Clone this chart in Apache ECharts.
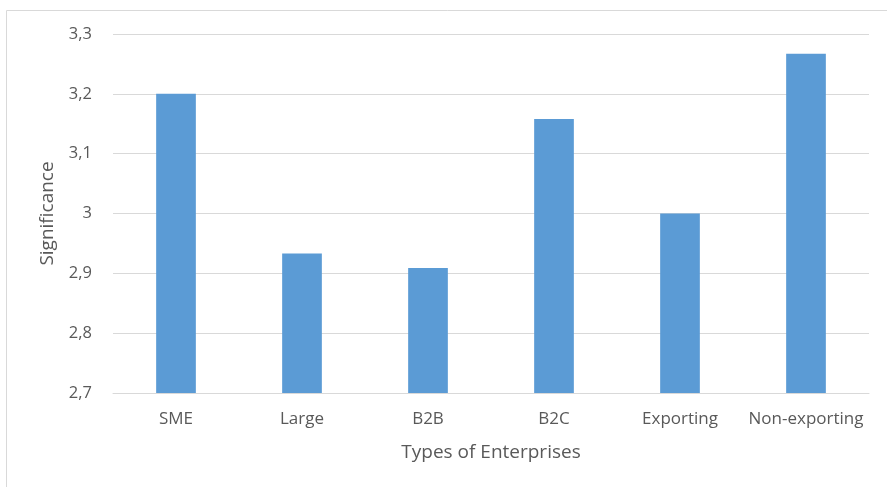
<!DOCTYPE html>
<html><head><meta charset="utf-8">
<script src="https://cdn.jsdelivr.net/npm/echarts@6/dist/echarts.min.js"></script>
<style>html,body{margin:0;padding:0;background:#fff}#c{width:887px;height:487px}</style>
</head><body><div id="c"></div>
<script>
const categories = ["SME", "Large", "B2B", "B2C", "Exporting", "Non-exporting"];
const significance = [3.2, 2.933, 2.909, 3.158, 3.0, 3.267];
const yTicks = {min: 2.7, max: 3.3, interval: 0.1};

const chart = echarts.init(document.getElementById('c'), null, {renderer: 'canvas'});
const font = '"Open Sans", Lato, sans-serif';
chart.setOption({
  animation: false,
  graphic: [{type: 'rect', shape: {x: 6.5, y: 10.5, width: 900, height: 500}, style: {fill: 'none', stroke: '#d9d9d9', lineWidth: 1}}],
  grid: {left: 113, right: 18, top: 34, bottom: 94},
  xAxis: {
    type: 'category', data: categories,
    name: 'Types of Enterprises', nameLocation: 'middle', nameGap: 50,
    nameTextStyle: {color: '#595959', fontSize: 19, fontFamily: font},
    axisLine: {lineStyle: {color: '#d9d9d9', width: 1}},
    axisTick: {show: false},
    axisLabel: {color: '#595959', fontSize: 17, fontFamily: font, margin: 18, interval: 0}
  },
  yAxis: {
    type: 'value', min: yTicks.min, max: yTicks.max, interval: yTicks.interval,
    name: 'Significance', nameLocation: 'middle', nameGap: 56,
    nameTextStyle: {color: '#595959', fontSize: 19, fontFamily: font},
    axisLine: {show: false}, axisTick: {show: false},
    splitLine: {lineStyle: {color: '#d9d9d9', width: 1}},
    axisLabel: {color: '#595959', fontSize: 16.5, fontFamily: font, margin: 21,
      formatter: v => (Math.round(v * 10) / 10).toString().replace('.', ',')}
  },
  series: [{
    type: 'bar', data: significance, barWidth: '31.5%',
    itemStyle: {color: '#5b9bd5'}
  }]
});
</script></body></html>
